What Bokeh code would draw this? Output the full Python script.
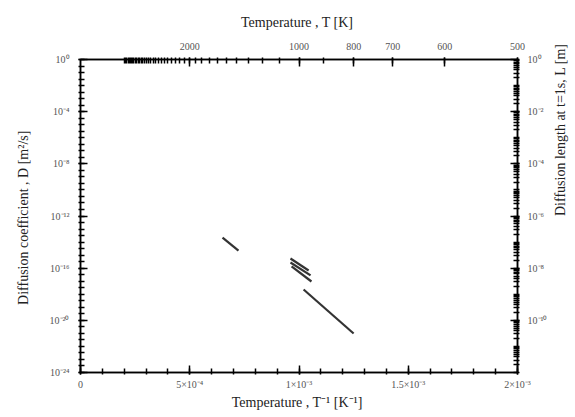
import math
from bokeh.plotting import figure
from bokeh.models import Range1d, LogScale, LogAxis, LinearAxis, FixedTicker
from bokeh.embed import file_html
from bokeh.resources import INLINE

# ---- data ----
seg_invT = [[6.50e-4, 7.23e-4],
            [9.61e-4, 1.044e-3],
            [9.61e-4, 1.053e-3],
            [9.66e-4, 1.057e-3],
            [1.021e-3, 1.250e-3]]
seg_D = [[2.2e-14, 2.2e-15],
         [5.5e-16, 6.6e-17],
         [2.7e-16, 2.8e-17],
         [1.35e-16, 9.5e-18],
         [2.3e-18, 9.8e-22]]

x_ticks = [0.0, 5e-4, 1e-3, 1.5e-3, 2e-3]
x_labels = ["0", "5×10⁻⁴", "1×10⁻³", "1.5×10⁻³", "2×10⁻³"]
top_T = [2000, 1000, 800, 700, 600, 500]
top_labels = ["2000", "1000", "800", "700", "600", "500"]
D_exps = [0, -4, -8, -12, -16, -20, -24]
D_labels = ["10⁰", "10⁻⁴", "10⁻⁸", "10⁻¹²", "10⁻¹⁶", "10⁻²⁰", "10⁻²⁴"]
L_exps = [0, -2, -4, -6, -8, -10]
L_labels = ["10⁰", "10⁻²", "10⁻⁴", "10⁻⁶", "10⁻⁸", "10⁻¹⁰"]

FONT = "Liberation Serif"

p = figure(frame_width=437, frame_height=313,
           x_range=Range1d(0, 2e-3), y_range=Range1d(1e-24, 1),
           y_axis_type="log", x_axis_location=None, y_axis_location=None,
           output_backend="svg", toolbar_location=None,
           min_border_left=80, min_border_top=59,
           min_border_right=5, min_border_bottom=5,
           background_fill_color="white", border_fill_color="white")
p.xgrid.visible = False
p.ygrid.visible = False
p.outline_line_color = "black"
p.outline_line_width = 1.5

p.extra_y_ranges = {"L": Range1d(1e-12, 1)}
p.extra_y_scales = {"L": LogScale()}


def style(ax, title, std_lab, std_title):
    ax.axis_label = title
    ax.axis_label_text_font = FONT
    ax.axis_label_text_font_style = "normal"
    ax.axis_label_text_font_size = "14px"
    ax.axis_label_text_color = "#222222"
    ax.major_label_text_font = FONT
    ax.major_label_text_font_size = "10px"
    ax.major_label_text_color = "#555555"
    ax.axis_line_color = "black"
    ax.axis_line_width = 1.5
    ax.major_tick_line_color = "black"
    ax.minor_tick_line_color = "black"
    ax.major_tick_line_width = 1.5
    ax.minor_tick_line_width = 1.5
    ax.major_tick_in = 7
    ax.major_tick_out = 2
    ax.minor_tick_in = 4
    ax.minor_tick_out = 2
    ax.major_label_standoff = std_lab
    ax.axis_label_standoff = std_title


# bottom axis: 1/T
bottom = LinearAxis(ticker=FixedTicker(ticks=x_ticks,
                                       minor_ticks=[i * 1e-4 for i in range(21)]))
bottom.major_label_overrides = {t: l for t, l in zip(x_ticks, x_labels)}
style(bottom, "Temperature , T⁻¹  [K⁻¹]", 4, 2)
p.add_layout(bottom, "below")

# top axis: T
top_pos = [1.0 / t for t in top_T]
top = LinearAxis(ticker=FixedTicker(ticks=top_pos,
                                    minor_ticks=[1.0 / t for t in range(500, 5100, 100)]))
top.major_label_overrides = {t: l for t, l in zip(top_pos, top_labels)}
style(top, "Temperature , T  [K]", 8, 10)
p.add_layout(top, "above")

# left axis: D
D_pos = [10.0 ** e for e in D_exps]
left = LogAxis(ticker=FixedTicker(ticks=D_pos,
                                  minor_ticks=[10.0 ** (e / 2) for e in range(-48, 1)]))
left.major_label_overrides = {t: l for t, l in zip(D_pos, D_labels)}
style(left, "Diffusion coefficient , D  [m²/s]", 9, 16)
p.add_layout(left, "left")

# right axis: L
L_pos = [10.0 ** e for e in L_exps]
right = LogAxis(y_range_name="L",
                ticker=FixedTicker(ticks=L_pos,
                                   minor_ticks=[m * 10.0 ** e for e in range(-12, 0)
                                                for m in (1, 2, 3, 4, 5, 6, 7, 8, 9)]))
right.major_label_overrides = {t: l for t, l in zip(L_pos, L_labels)}
style(right, "Diffusion length at t=1s, L  [m]", 8, 10)
try:
    right.axis_label_orientation = math.pi / 2
except Exception:
    pass
p.add_layout(right, "right")

p.multi_line(xs=seg_invT, ys=seg_D, line_color="#333333", line_width=2.2)

open("out.html", "w").write(file_html(p, INLINE))
